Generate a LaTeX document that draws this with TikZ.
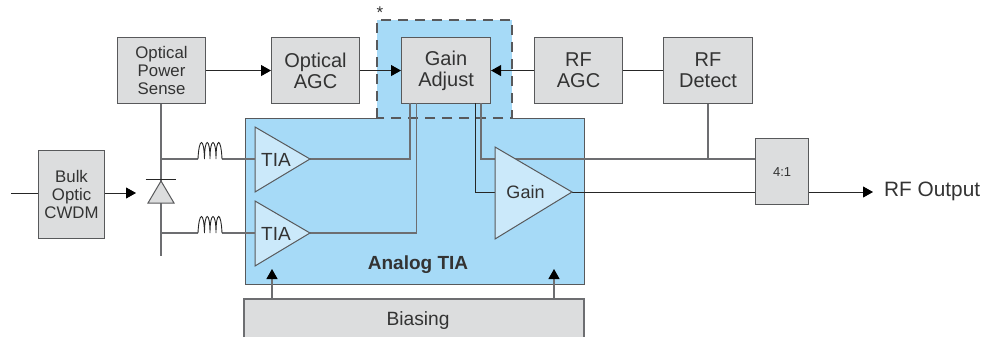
\documentclass[tikz,border=0pt]{standalone}
\usepackage{fontspec}
\setmainfont{Liberation Sans}
\usetikzlibrary{arrows.meta}
\definecolor{boxg}{HTML}{DCDDDE}
\definecolor{edgeg}{HTML}{58595B}
\definecolor{wireg}{HTML}{6D6E71}
\definecolor{bblue}{HTML}{A6DAF7}
\definecolor{lblue}{HTML}{CBE9FA}
\definecolor{txt}{HTML}{333333}
\tikzset{
 blk/.style={draw=edgeg,fill=boxg,line width=1.1pt,inner sep=0pt,align=center,text=txt,anchor=north west},
 blkbig/.style={blk,font=\fontsize{20}{21}\selectfont,minimum height=66pt},
 blksmall/.style={blk,font=\fontsize{16.8}{17.6}\selectfont},
 wire/.style={draw=wireg,line width=1.2pt},
 sig/.style={draw=black!85,line width=0.9pt},
 arr/.style={-{Triangle[length=10pt,width=11pt,color=black]}},
 amp/.style={draw=edgeg,fill=lblue,line width=1pt},
 lab/.style={text=txt,font=\fontsize{19}{19}\selectfont,inner sep=0pt},
 dashb/.style={draw=edgeg,line width=1.1pt,dash pattern=on 10pt off 7pt},
}
\begin{document}
\begin{tikzpicture}[x=1pt,y=-1pt]
\useasboundingbox (0,0) rectangle (992,337);
% blue regions
\fill[bblue] (377,20) rectangle (512,118);
\node[draw=edgeg,fill=bblue,line width=1pt,minimum width=339pt,minimum height=166pt,inner sep=0pt,anchor=north west] (tiablock) at (245,118) {};
\fill[bblue] (378,112) rectangle (511,119.5);
\coordinate (dA) at (377,118);
\coordinate (dB) at (377,20);
\coordinate (dC) at (512,20);
\coordinate (dD) at (512,118);
\draw[dashb] (dA) -- (dB) -- (dC) -- (dD) -- cycle;
\node[lab,font=\fontsize{17}{17}\selectfont] (star) at (380,13) {*};
% biasing
\fill[boxg] (244,299) rectangle (584,337);
\coordinate (bl) at (244,337);
\coordinate (br) at (584,337);
\coordinate (bt1) at (244,299);
\coordinate (bt2) at (584,299);
\draw[draw=wireg,line width=1.1pt] (bl) -- (bt1) -- (bt2) -- (br);
\node[lab,font=\fontsize{19.2}{19.2}\selectfont] (bias) at (418,321) {Biasing};
\node[lab,font=\fontsize{19}{19}\selectfont\bfseries] (atia) at (418,265) {Analog TIA};
% boxes
\node[blksmall,minimum width=66pt,minimum height=88pt] (bulk) at (38,150) {Bulk\\Optic\\CWDM};
\node[blksmall,minimum width=88pt,minimum height=66pt] (ops) at (117,37) {Optical\\Power\\Sense};
\node[blkbig,minimum width=88pt] (oagc) at (271,37) {Optical\\AGC};
\node[blkbig,minimum width=89pt] (gadj) at (401,37) {Gain\\Adjust};
\node[blkbig,minimum width=88pt] (ragc) at (534,37) {RF\\AGC};
\node[blkbig,minimum width=89pt] (rdet) at (663,37) {RF\\Detect};
\node[blk,font=\fontsize{13}{13}\selectfont,minimum width=53pt,minimum height=66pt] (mux) at (755,138) {4:1};
\coordinate (t1in) at (255,159);
\coordinate (t1out) at (310,159);
\coordinate (t2in) at (255,233);
\coordinate (t2out) at (310,233);
\coordinate (gin) at (495,192);
\coordinate (gout) at (572,192);
% wires behind the amplifiers
\draw[wire] (t1out) -- (410,159) -- (410,103);
\draw[wire] (t2out) -- (416.5,233) -- (416.5,103);
\draw[sig] (gin) -- (475,192) -- (475,103);
\coordinate (gtop) at (481,159);
\draw[wire] (481,103) -- (gtop) -- (mux.west |- gtop);
\draw[wire] (rdet.south) -- (rdet.south |- gtop);
\draw[sig] (gout) -- (mux.west |- gout);
\coordinate (ofree) at (873,192);
\draw[sig,arr] (mux.east |- gout) -- (ofree);
\node[lab,anchor=west,font=\fontsize{20.8}{20.8}\selectfont] (rfout) at (884,191.5) {RF Output};
% amps
\draw[amp] (255,127) -- (310,159) -- (255,192) -- cycle;
\draw[amp] (255,201) -- (310,233) -- (255,266) -- cycle;
\draw[amp] (495,147) -- (572,192) -- (495,239) -- cycle;
\node[lab] (tia1) at (276,160) {TIA};
\node[lab] (tia2) at (276,234) {TIA};
\node[lab,font=\fontsize{18}{18}\selectfont] (gain) at (525.5,192) {Gain};
% top arrows
\draw[sig,arr] (ops.east) -- (oagc.west);
\draw[sig,arr] (oagc.east) -- (gadj.west);
\draw[sig,arr] (ragc.west) -- (gadj.east);
\draw[sig] (rdet.west) -- (ragc.east);
% input
\coordinate (infree) at (11,193);
\draw[sig] (infree) -- (bulk.west |- infree);
\coordinate (dtip) at (136,193);
\draw[sig,arr] (bulk.east |- dtip) -- (dtip);
% diode and coils
\coordinate (vend) at (161,256);
\draw[wire] (ops.south -| vend) -- (vend);
\draw[fill=boxg,draw=edgeg,line width=1pt] (161,181) -- (174,203) -- (148,203) -- cycle;
\draw[draw=black!85,line width=0.9pt] (145.5,179.5) -- (176,179.5);
\foreach \y/\n in {159/a,233/b}{
 \coordinate (c\n1) at (198,\y);
 \coordinate (c\n2) at (222,\y);
 \draw[wire] (161,\y) -- (c\n1);
 \draw[wire] (c\n2) -- (255,\y);
 \draw[black!85,line width=0.9pt] (c\n1) .. controls (199,\y-22) and (204,\y-22) .. (204.5,\y)
   .. controls (204.5,\y-22) and (210,\y-22) .. (210,\y)
   .. controls (210,\y-22) and (216,\y-22) .. (216,\y)
   .. controls (216,\y-22) and (221,\y-22) .. (c\n2);
}
% biasing arrows
\coordinate (ba) at (272,269);
\coordinate (bb) at (554,269);
\draw[wire,arr] (ba |- bt1) -- (ba);
\draw[wire,arr] (bb |- bt1) -- (bb);
\end{tikzpicture}
\end{document}
